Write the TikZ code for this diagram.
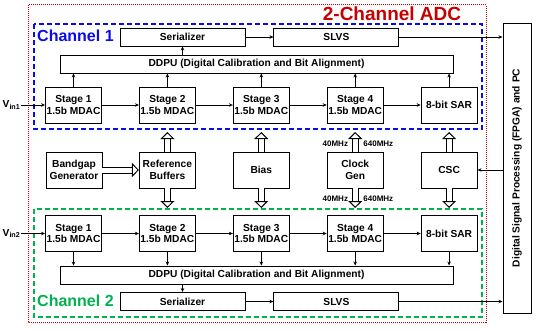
\documentclass[tikz,border=0pt]{standalone}
\usepackage{fontspec}
\setmainfont{Liberation Sans}
\usepackage{tikz}
\usetikzlibrary{arrows.meta, positioning}
\definecolor{chblue}{RGB}{10,10,235}
\definecolor{chgreen}{RGB}{0,178,80}
\definecolor{adcred}{RGB}{200,0,0}

\begin{document}
\begin{tikzpicture}[x=1pt, y=-1pt, font=\bfseries\fontsize{10.2}{11.5}\selectfont,
  node distance=37pt,
  blk/.style={rectangle, draw, line width=0.9pt, fill=white,
              minimum width=56pt, minimum height=36pt, inner sep=1pt, align=center},
  bar/.style={rectangle, draw, line width=0.9pt, fill=white,
              minimum height=18pt, inner sep=1pt},
  arr/.style={-{Stealth[length=4pt, width=3.5pt]}, line width=0.7pt},
  dbl/.style={double, double distance=5pt, line width=1pt,
              -{Triangle[open, length=7pt, width=14pt]}},
  freq/.style={font=\bfseries\fontsize{8}{9}\selectfont, inner sep=0pt},
  chan/.style={font=\bfseries\fontsize{16}{18}\selectfont, inner sep=0pt, anchor=west}]
  \useasboundingbox (0,0) rectangle (537,329);

  % outer and channel frames
  \draw[adcred, line width=1pt, dash pattern=on 1pt off 1pt] (28,5) rectangle (486,322);
  \draw[chblue, line width=1.2pt, dash pattern=on 5pt off 3pt] (34,24) rectangle (482,129);
  \draw[chgreen, line width=1.2pt, dash pattern=on 5pt off 3pt] (34,209) rectangle (482,317);
  \coordinate (c1) at (34,132);
  \coordinate (c2) at (34,208);
  \node[adcred, font=\bfseries\fontsize{19}{21}\selectfont, inner sep=0pt] (title) at (392,14) {2-Channel ADC};
  \node[chan, chblue] (ch1) at (37,36) {Channel 1};
  \node[chan, chgreen] (ch2) at (37,301) {Channel 2};

  % channel 1
  \node[blk] (st11) at (73.5,105) {Stage 1\\1.5b MDAC};
  \node[blk, right=of st11] (st12) {Stage 2\\1.5b MDAC};
  \node[blk, right=of st12] (st13) {Stage 3\\1.5b MDAC};
  \node[blk, right=of st13] (st14) {Stage 4\\1.5b MDAC};
  \node[blk, right=of st14] (sar1) {8-bit SAR};
  \node[bar, minimum width=393pt] (ddpu1) at (256.5,64) {DDPU (Digital Calibration and Bit Alignment)};
  \node[bar, minimum width=125pt] (ser1) at (182.5,37) {Serializer};
  \node[bar, minimum width=125pt, right=28pt of ser1] (slvs1) {SLVS};
  \node[anchor=west, inner sep=0.5pt] (vin1) at (2,105) {V\textsubscript{in1}};

  % shared blocks
  \node[blk] (bg) at (74,170) {Bandgap\\Generator};
  \node[blk] (rb) at (st12 |- bg) {Reference\\Buffers};
  \node[blk] (bias) at (st13 |- bg) {Bias};
  \node[blk] (clk) at (st14 |- bg) {Clock\\Gen};
  \node[blk] (csc) at (sar1 |- bg) {CSC};
  \node[draw, line width=0.9pt, rotate=90, minimum width=290pt, minimum height=28pt,
        inner sep=1pt] (fpga) at (517,168) {Digital Signal Processing (FPGA) and PC};

  % channel 2
  \node[blk] (st21) at (73.5,233.5) {Stage 1\\1.5b MDAC};
  \node[blk, right=of st21] (st22) {Stage 2\\1.5b MDAC};
  \node[blk, right=of st22] (st23) {Stage 3\\1.5b MDAC};
  \node[blk, right=of st23] (st24) {Stage 4\\1.5b MDAC};
  \node[blk, right=of st24] (sar2) {8-bit SAR};
  \node[bar, minimum width=393pt] (ddpu2) at (256.5,275) {DDPU (Digital Calibration and Bit Alignment)};
  \node[bar, minimum width=125pt] (ser2) at (182.5,301.5) {Serializer};
  \node[bar, minimum width=125pt, right=28pt of ser2] (slvs2) {SLVS};
  \node[anchor=west, inner sep=0.5pt] (vin2) at (2,233.5) {V\textsubscript{in2}};

  % clock labels
  \node[freq, above left=5pt and 7pt of clk.north] (f1) {40MHz};
  \node[freq, above right=5pt and 8pt of clk.north] (f2) {640MHz};
  \node[freq, below left=7pt and 7pt of clk.south] (f3) {40MHz};
  \node[freq, below right=7pt and 8pt of clk.south] (f4) {640MHz};

  % signal flow
  \draw[arr] (vin1) -- (st11);
  \draw[arr] (st11) -- (st12);
  \draw[arr] (st12) -- (st13);
  \draw[arr] (st13) -- (st14);
  \draw[arr] (st14) -- (sar1);
  \draw[arr] (vin2) -- (st21);
  \draw[arr] (st21) -- (st22);
  \draw[arr] (st22) -- (st23);
  \draw[arr] (st23) -- (st24);
  \draw[arr] (st24) -- (sar2);
  \foreach \s in {st11, st12, st13, st14, sar1}
    \draw[arr] (\s.north) -- (\s.north |- ddpu1.south);
  \foreach \s in {st21, st22, st23, st24, sar2}
    \draw[arr] (\s.south) -- (\s.south |- ddpu2.north);
  \draw[arr] (ser1.south |- ddpu1.north) -- (ser1.south);
  \draw[arr] (ser2.north |- ddpu2.south) -- (ser2.north);
  \draw[arr] (ser1) -- (slvs1);
  \draw[arr] (ser2) -- (slvs2);
  \draw[arr] (slvs1.east) -- (slvs1.east -| fpga.north);
  \draw[arr] (slvs2.east) -- (slvs2.east -| fpga.north);
  \draw[arr] (csc.east -| fpga.north) -- (csc.east);

  % supplies, references and clocks
  \draw[dbl] (bg) -- (rb);
  \foreach \m in {rb, bias, clk, csc} {
    \draw[dbl] (\m.north) -- (\m.north |- c1);
    \draw[dbl] (\m.south) -- (\m.south |- c2);
  }
\end{tikzpicture}
\end{document}
